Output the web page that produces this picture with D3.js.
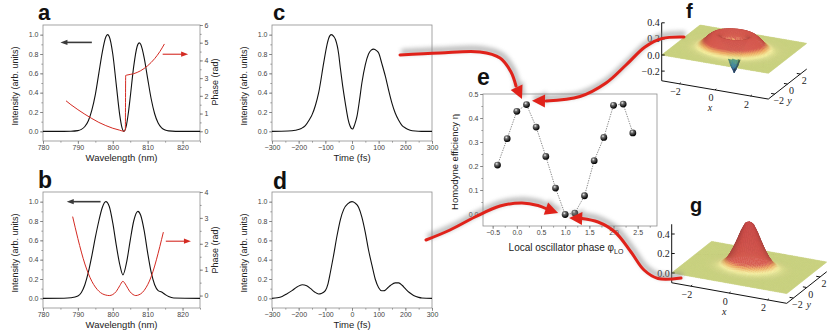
<!DOCTYPE html>
<meta charset="utf-8">
<style>
body { margin: 0; background: #fff; }
svg { display: block; }
</style>
<svg width="830" height="336"></svg>
<script src="https://cdn.jsdelivr.net/npm/d3@7/dist/d3.min.js"></script>
<script>

// ---- a : spectral intensity and phase (phase step of pi)
var wlA = [780, 786, 788, 790, 791, 792, 793, 794, 795, 796, 797, 798, 798.5, 799, 800, 801, 802, 802.6, 803.2,
           803.8, 804.5, 805, 806, 807, 807.6, 808, 809, 810, 811, 812, 813, 814, 815, 816, 818, 825];
var intA = [0, 0, 0.001, 0.007, 0.02, 0.05, 0.11, 0.22, 0.38, 0.6, 0.82, 0.976, 1.0, 0.979, 0.8, 0.483, 0.168, 0.044, 0,
            0.045, 0.2, 0.352, 0.672, 0.88, 0.915, 0.9, 0.76, 0.545, 0.337, 0.182, 0.086, 0.036, 0.0135, 0.0045, 0, 0];
var phaseWlA = [786.6, 788, 790, 792, 794, 796, 798, 800, 802, 803.2, 803.6, 803.7, 804, 806, 808, 810, 812, 813.5, 814.8];
var phaseA = [1.72, 1.5, 1.22, 0.96, 0.72, 0.5, 0.32, 0.17, 0.06, 0, 0.08, 3.15, 3.17, 3.25, 3.42, 3.7, 4.1, 4.5, 4.93];

// ---- b : spectral intensity and quadratic-like phase
var wlB = [780, 786, 788, 790, 791, 792, 793, 794, 795, 796, 797, 798, 799, 800, 801, 802, 802.9, 804, 805, 806,
           807.2, 808, 809, 810, 811, 812, 813, 814, 815, 816, 817.5, 825];
var intB = [0, 0.001, 0.006, 0.025, 0.06, 0.14, 0.27, 0.44, 0.63, 0.8, 0.94, 1.0, 0.95, 0.78, 0.55, 0.35, 0.243, 0.38, 0.6, 0.8,
            0.9, 0.86, 0.7, 0.47, 0.27, 0.14, 0.08, 0.065, 0.04, 0.018, 0.003, 0];
var phaseWlB = [788.5, 790, 791, 792, 793, 794, 795, 796, 797, 798, 799, 800, 801, 802, 802.9, 803.8, 804.8, 805.8,
                806.6, 807.5, 808.5, 809.5, 810.5, 811.5, 812.5, 813.5, 814.5];
var phaseB = [3.05, 2.2, 1.68, 1.22, 0.85, 0.55, 0.33, 0.17, 0.07, 0.02, 0, 0.04, 0.16, 0.38, 0.55, 0.4, 0.17, 0.04,
              0, 0.03, 0.12, 0.3, 0.56, 0.92, 1.38, 1.9, 2.45];

// ---- c, d : temporal intensity
var timeC = [-300, -240, -212, -190, -175, -160, -150, -137, -125, -106, -95, -87, -78, -68, -62, -50, -44, -35, -25, -15, -8,
             2, 10, 19, 28, 37, 50, 62, 72, 81, 92, 100, 112, 125, 137, 150, 162, 175, 188, 200, 218, 237, 260, 300];
var intC = [0, 0.003, 0.012, 0.03, 0.06, 0.12, 0.17, 0.27, 0.4, 0.71, 0.88, 0.965, 1.0, 0.98, 0.95, 0.8, 0.66, 0.47, 0.29, 0.13, 0.06,
            0.024, 0.07, 0.16, 0.32, 0.5, 0.69, 0.8, 0.84, 0.85, 0.835, 0.81, 0.7, 0.57, 0.43, 0.29, 0.19, 0.115, 0.06, 0.035, 0.012, 0.003, 0, 0];
var timeD = [-300, -280, -262, -245, -225, -205, -187, -170, -155, -140, -125, -115, -100, -90, -81, -70, -56, -43, -31, -15, 0,
             12, 25, 37, 50, 62, 75, 87, 100, 112, 122, 131, 145, 162, 175, 188, 200, 215, 231, 250, 262, 300];
var intD = [0, 0.006, 0.02, 0.045, 0.08, 0.12, 0.14, 0.13, 0.1, 0.065, 0.045, 0.05, 0.08, 0.15, 0.27, 0.43, 0.65, 0.82, 0.92, 0.98, 1.0,
            0.985, 0.94, 0.84, 0.68, 0.5, 0.34, 0.2, 0.11, 0.078, 0.08, 0.1, 0.135, 0.16, 0.16, 0.135, 0.1, 0.06, 0.03, 0.01, 0.004, 0];

// ---- e : homodyne efficiency vs local oscillator phase
var loPhase = [-0.4, -0.2, 0, 0.2, 0.4, 0.6, 0.8, 1.0, 1.2, 1.4, 1.6, 1.8, 2.0, 2.2, 2.4];
var efficiency = [0.204, 0.314, 0.428, 0.456, 0.362, 0.24, 0.108, -0.002, 0.004, 0.076, 0.222, 0.319, 0.453, 0.458, 0.338];

// ---- f, g : radial profiles of the Wigner functions
var wignerR = [0, 0.2, 0.4, 0.6, 0.8, 1.0, 1.2, 1.4, 1.6, 1.8, 2.0, 2.2, 2.4, 2.6, 3.0];
var wignerF = [-0.29, -0.2, -0.06, 0.08, 0.16, 0.18, 0.165, 0.13, 0.085, 0.045, 0.02, 0.008, 0.003, 0.001, 0];
var wignerG = [0.47, 0.45, 0.37, 0.27, 0.18, 0.105, 0.055, 0.025, 0.01, 0.004, 0.001, 0, 0, 0, 0];

// ticks
var wlTicks = [780, 790, 800, 810, 820];
var timeTicks = [-300, -200, -100, 0, 100, 200, 300];
var intTicks = [0, 0.2, 0.4, 0.6, 0.8, 1.0];
var phaseTicksA = [0, 1, 2, 3, 4, 5, 6];
var phaseTicksB = [0, 1, 2, 3, 4];
var effTicks = [0, 0.1, 0.2, 0.3, 0.4, 0.5];
var loTicks = [-0.5, 0, 0.5, 1.0, 1.5, 2.0, 2.5];
var zTicksF = [0.4, 0.2, 0, -0.2];
var zTicksG = [0.4, 0.2, 0];
var xyTicks = [-2, 0, 2];

var svg = d3.select("svg");
var sans = "Arial, 'Liberation Sans', sans-serif";
var serif = "'Times New Roman', 'Liberation Serif', serif";
var red = "#d42a22";

var defs = svg.append("defs");
defs.append("filter").attr("id", "blur").attr("x", "-20%").attr("y", "-40%").attr("width", "140%").attr("height", "180%")
  .append("feGaussianBlur").attr("stdDeviation", 2.2);
var rg = defs.append("radialGradient").attr("id", "ball").attr("cx", "38%").attr("cy", "32%").attr("r", "62%");
rg.append("stop").attr("offset", "0%").attr("stop-color", "#f2f2f2");
rg.append("stop").attr("offset", "35%").attr("stop-color", "#6c6c6c");
rg.append("stop").attr("offset", "100%").attr("stop-color", "#060606");

function axis(g, gen, tx, ty) {
  var a = g.append("g").attr("transform", "translate(" + tx + "," + ty + ")").call(gen);
  a.select(".domain").remove();
  a.selectAll(".tick line").attr("stroke", "#6f6f6f").attr("stroke-width", 0.7);
  a.selectAll(".tick text").attr("fill", "#444").style("font", "7px " + sans);
  return a;
}

function title(g, txt, x, y, rot, size) {
  return g.append("text").attr("transform", "translate(" + x + "," + y + ") rotate(" + (rot || 0) + ")")
    .attr("text-anchor", "middle").attr("fill", "#222").style("font", (size || 9) + "px " + sans).text(txt);
}

function letter(txt, x, y, size) {
  svg.append("text").attr("x", x).attr("y", y).attr("fill", "#111")
    .style("font", "bold " + (size || 23) + "px " + sans).text(txt);
}

function smallArrow(g, x1, x2, y, col, w) {
  var dir = x2 > x1 ? 1 : -1;
  g.append("line").attr("x1", x1).attr("x2", x2 - dir * 5).attr("y1", y).attr("y2", y)
    .attr("stroke", col).attr("stroke-width", w);
  g.append("path").attr("d", "M" + x2 + "," + y + "L" + (x2 - dir * 7) + "," + (y - 2.6) + "L" + (x2 - dir * 7) + "," + (y + 2.6) + "Z")
    .attr("fill", col);
}

function linePanel(p) {
  var g = svg.append("g");
  var x = d3.scaleLinear().domain(p.xDomain).range([p.x0, p.x1]);
  var y = d3.scaleLinear().domain([-0.1, 1.1]).range([p.y1, p.y0]);
  axis(g, d3.axisBottom(x).tickValues(d3.range(p.xDomain[0], p.xDomain[1] + 1e-9, p.xStep / 2)).tickSize(1.6).tickFormat(""), 0, p.y1);
  axis(g, d3.axisBottom(x).tickValues(p.xTicks).tickSize(3).tickPadding(1.5).tickFormat(d3.format("d")), 0, p.y1);
  axis(g, d3.axisLeft(y).tickValues(d3.range(0, 1.05, 0.1)).tickSize(1.6).tickFormat(""), p.x0, 0);
  axis(g, d3.axisLeft(y).tickValues(intTicks).tickSize(3).tickPadding(1.5).tickFormat(d3.format(".1f")), p.x0, 0);
  g.append("rect").attr("x", p.x0).attr("y", p.y0).attr("width", p.x1 - p.x0).attr("height", p.y1 - p.y0)
    .attr("fill", "none").attr("stroke", "#8e8e8e").attr("stroke-width", 0.8);
  g.append("path").datum(d3.zip(p.xs, p.ys))
    .attr("d", d3.line().x(function(d) { return x(d[0]); }).y(function(d) { return y(d[1]); }).curve(d3.curveMonotoneX))
    .attr("fill", "none").attr("stroke", "#111").attr("stroke-width", 1.1);
  title(g, "Intensity (arb. units)", p.x0 - 25, (p.y0 + p.y1) / 2 + 3, -90, 9);
  title(g, p.xLabel, (p.x0 + p.x1) / 2, p.y1 + 20, 0, 9.5);
  return { g: g, x: x, y: y };
}

function phaseAxis(pan, p) {
  var yp = d3.scaleLinear().domain(p.domain).range([p.y1, p.y0]);
  axis(pan.g, d3.axisRight(yp).tickValues(d3.range(0, p.ticks[p.ticks.length - 1] + 0.01, 0.5)).tickSize(1.6).tickFormat(""), p.x1, 0);
  axis(pan.g, d3.axisRight(yp).tickValues(p.ticks).tickSize(3).tickPadding(1.5).tickFormat(d3.format("d")), p.x1, 0);
  pan.g.append("path").datum(d3.zip(p.xs, p.ys))
    .attr("d", d3.line().x(function(d) { return pan.x(d[0]); }).y(function(d) { return yp(d[1]); }).curve(d3.curveMonotoneX))
    .attr("fill", "none").attr("stroke", red).attr("stroke-width", 1);
  title(pan.g, "Phase (rad)", p.x1 + 18, p.labelY, -90, 9);
  smallArrow(pan.g, pan.x(p.blackArrow[0]), pan.x(p.blackArrow[1]), pan.y(p.blackArrow[2]), "#3a3a3a", 1.6);
  smallArrow(pan.g, pan.x(p.redArrow[0]), pan.x(p.redArrow[1]), yp(p.redArrow[2]), red, 1.1);
}

// a
var panA = linePanel({ x0: 43, x1: 200, y0: 25, y1: 141, xDomain: [780, 825], xStep: 10, xTicks: wlTicks,
  xs: wlA, ys: intA, xLabel: "Wavelength (nm)" });
phaseAxis(panA, { x1: 200, y0: 25, y1: 141, domain: [-0.55, 6], ticks: phaseTicksA, xs: phaseWlA, ys: phaseA,
  labelY: 82, blackArrow: [794, 785, 0.92], redArrow: [814.3, 821.6, 4.35] });
// b
var panB = linePanel({ x0: 43, x1: 200, y0: 192, y1: 308, xDomain: [780, 825], xStep: 10, xTicks: wlTicks,
  xs: wlB, ys: intB, xLabel: "Wavelength (nm)" });
phaseAxis(panB, { x1: 200, y0: 192, y1: 308, domain: [-0.48, 4], ticks: phaseTicksB, xs: phaseWlB, ys: phaseB,
  labelY: 250, blackArrow: [796.5, 786.8, 1.0], redArrow: [815.2, 822.4, 2.1] });
// c, d
linePanel({ x0: 272, x1: 432, y0: 25, y1: 141, xDomain: [-300, 300], xStep: 100, xTicks: timeTicks,
  xs: timeC, ys: intC, xLabel: "Time (fs)" });
linePanel({ x0: 272, x1: 432, y0: 192, y1: 308, xDomain: [-300, 300], xStep: 100, xTicks: timeTicks,
  xs: timeD, ys: intD, xLabel: "Time (fs)" });

// e
var ge = svg.append("g");
var xE = d3.scaleLinear().domain([-0.7, 2.9]).range([483, 657]);
var yE = d3.scaleLinear().domain([-0.05, 0.5]).range([226, 94]);
axis(ge, d3.axisBottom(xE).tickValues(d3.range(-0.5, 2.8, 0.25)).tickSize(1.6).tickFormat(""), 0, 226);
axis(ge, d3.axisBottom(xE).tickValues(loTicks).tickSize(3).tickPadding(1.5).tickFormat(d3.format(".1f")), 0, 226);
axis(ge, d3.axisLeft(yE).tickValues(d3.range(0, 0.51, 0.05)).tickSize(1.6).tickFormat(""), 483, 0);
axis(ge, d3.axisLeft(yE).tickValues(effTicks).tickSize(3).tickPadding(1.5).tickFormat(d3.format(".1f")), 483, 0);
ge.append("rect").attr("x", 483).attr("y", 94).attr("width", 174).attr("height", 132)
  .attr("fill", "none").attr("stroke", "#8e8e8e").attr("stroke-width", 0.8);
var effPts = d3.zip(loPhase, efficiency);
ge.append("path").datum(effPts)
  .attr("d", d3.line().x(function(d) { return xE(d[0]); }).y(function(d) { return yE(d[1]); }))
  .attr("fill", "none").attr("stroke", "#555").attr("stroke-width", 0.7).attr("stroke-dasharray", "1.3,1.2");
ge.selectAll("circle").data(effPts).join("circle")
  .attr("cx", function(d) { return xE(d[0]); }).attr("cy", function(d) { return yE(d[1]); })
  .attr("r", 3.4).attr("fill", "url(#ball)");
title(ge, "Homodyne efficiency \u03b7", 458, 162, -90, 9.5);
var lt = title(ge, "Local oscillator phase \u03c6", 566, 251, 0, 10);
lt.append("tspan").attr("dy", 3).style("font-size", "7px").text("LO");

// f, g : 3D surfaces
var heightColor = d3.scaleLinear()
  .domain([-0.3, -0.2, -0.1, 0, 0.025, 0.055, 0.09, 0.5])
  .range(["#2d5aa8", "#3f8c9c", "#7ab35c", "#c8cf7e", "#f3ed9c", "#eeb064", "#d65a4e", "#c94646"])
  .clamp(true);

function surfacePanel(p) {
  var g = svg.append("g");
  var w = d3.scaleLinear().domain(wignerR).range(p.profile).clamp(true);
  function P(x, y, z) {
    return [p.o[0] + (x + 3) * p.ex[0] + (y + 3) * p.ey[0],
            p.o[1] + (x + 3) * p.ex[1] + (y + 3) * p.ey[1] - z * p.ez];
  }
  var n = 64, h = 6 / n, zs = p.ez / Math.hypot(p.ex[0], p.ex[1]);
  var L = [0.35, -0.8, 1];
  var cells = [];
  for (var i = 0; i < n; i++) {
    for (var j = 0; j < n; j++) {
      var xa = -3 + i * h, xb = xa + h, ya = -3 + j * h, yb = ya + h;
      var z00 = w(Math.hypot(xa, ya)), z10 = w(Math.hypot(xb, ya)), z11 = w(Math.hypot(xb, yb)), z01 = w(Math.hypot(xa, yb));
      var fx = (z10 + z11 - z00 - z01) / (2 * h) * zs, fy = (z01 + z11 - z00 - z10) / (2 * h) * zs;
      var k = (-fx * L[0] - fy * L[1] + L[2]) / Math.hypot(fx, fy, 1) / L[2];
      k = Math.max(-0.3, Math.min(1.4, k));
      var zm = (z00 + z10 + z11 + z01) / 4;
      var base = heightColor(zm);
      var col = k < 1 ? d3.interpolateRgb(base, "#2a1414")(0.4 * (1 - k)) : d3.interpolateRgb(base, "#ffffff")(0.1 * (k - 1));
      cells.push({ pts: [P(xa, ya, z00), P(xb, ya, z10), P(xb, yb, z11), P(xa, yb, z01)], col: col,
                   cy: ya + h / 2, z: zm, r: Math.hypot(xa + h / 2, ya + h / 2),
                   depth: P(xa + h / 2, ya + h / 2, 0)[1] });
    }
  }
  cells.sort(function(a, b) { return a.depth - b.depth; });
  var order = cells;
  if (p.showDip) {
    // the negative dip shows through in front of the plane, the front of the ring stays on top of it
    order = cells.concat(cells.filter(function(c) { return c.z < 0 && c.cy > -0.1; }),
                         cells.filter(function(c) { return c.cy < 0 && c.z > 0.02 && c.r < 2.4; }));
  }
  g.selectAll("path.cell").data(order).join("path").attr("class", "cell")
    .attr("d", function(c) { return "M" + c.pts.join("L") + "Z"; })
    .attr("fill", function(c) { return c.col; }).attr("stroke", function(c) { return c.col; }).attr("stroke-width", 0.45);

  var lines = [[P(-3, -3, p.zmin), P(-3, -3, p.zmax)], [P(-3, -3, p.zmin), P(3, -3, p.zmin)], [P(3, -3, p.zmin), P(3, 3, p.zmin)]];
  p.zTicks.forEach(function(z) { var a = P(-3, -3, z); lines.push([a, [a[0] + 3, a[1]]]); });
  xyTicks.forEach(function(v) {
    lines.push([P(v, -3, p.zmin), P(v, -2.8, p.zmin)]);
    lines.push([P(3, v, p.zmin), P(2.8, v, p.zmin)]);
  });
  g.selectAll("line.ax").data(lines).join("line").attr("class", "ax")
    .attr("x1", function(d) { return d[0][0]; }).attr("y1", function(d) { return d[0][1]; })
    .attr("x2", function(d) { return d[1][0]; }).attr("y2", function(d) { return d[1][1]; })
    .attr("stroke", "#111").attr("stroke-width", 1);

  var fmt = function(v) { return v === 0 ? "0.0" : d3.format(".1f")(v).replace("-", "\u2212"); };
  g.selectAll("text.z").data(p.zTicks).join("text").attr("class", "z")
    .attr("x", P(-3, -3, 0)[0] - 2).attr("y", function(z) { return P(-3, -3, z)[1] + 3.5; })
    .attr("text-anchor", "end").attr("fill", "#222").style("font", "10px " + serif).text(fmt);
  var fint = function(v) { return String(v).replace("-", "\u2212"); };
  g.selectAll("text.x").data(xyTicks).join("text").attr("class", "x")
    .attr("x", function(v) { return P(v, -3, p.zmin)[0] - 4; }).attr("y", function(v) { return P(v, -3, p.zmin)[1] + 11.5; })
    .attr("text-anchor", "middle").attr("fill", "#222").style("font", "10px " + serif).text(fint);
  g.selectAll("text.y").data(xyTicks).join("text").attr("class", "y")
    .attr("x", function(v) { return P(3, v, p.zmin)[0] + 4; }).attr("y", function(v) { return P(3, v, p.zmin)[1] + 10; })
    .attr("text-anchor", "middle").attr("fill", "#222").style("font", "10px " + serif).text(fint);
  var xl = P(0, -3, p.zmin), yl = P(3, 0, p.zmin);
  g.append("text").attr("x", xl[0] - 5).attr("y", xl[1] + 21.5).attr("text-anchor", "middle")
    .style("font", "italic 10px " + serif).attr("fill", "#222").text("x");
  g.append("text").attr("x", yl[0] + 2).attr("y", yl[1] + 20).attr("text-anchor", "middle")
    .style("font", "italic 10px " + serif).attr("fill", "#222").text("y");
}

surfacePanel({ o: [661.7, 55], ex: [17.77, 3.05], ey: [6.4, -5.0], ez: 80.5, zmin: -0.32, zmax: 0.4,
  zTicks: zTicksF, profile: wignerF, showDip: true });
surfacePanel({ o: [671.7, 273], ex: [19.17, 3.43], ey: [6.67, -5.27], ez: 97.5, zmin: -0.1, zmax: 0.5,
  zTicks: zTicksG, profile: wignerG });

// connectors into panel e, tips placed next to the marked data points
function tipAt(i, dx, dy) { return [xE(loPhase[i]) + dx, yE(efficiency[i]) + dy]; }
var connectors = [
  { pts: [[400, 55], [440, 53], [480, 52], [500, 58], [511, 72], [516, 86]], tip: tipAt(3, -4.5, -5.5) },
  { pts: [[684, 37], [662, 38.5], [645, 47], [626, 65], [606, 83], [580, 96.5], [546, 101]], tip: tipAt(3, 5.5, -3.8) },
  { pts: [[426, 240], [450, 230], [475, 217], [500, 206], [522, 203], [538, 205.5], [547, 209]], tip: tipAt(7, -7, -1.5) },
  { pts: [[681, 278], [658, 278.5], [644, 270], [631, 252], [615, 232], [598, 222], [582, 218.5]], tip: tipAt(7, 4, 3.5) }
];
var conLine = d3.line().curve(d3.curveCatmullRom.alpha(0.5));
function head(c) {
  var b = c.pts[c.pts.length - 1], t = c.tip;
  var dx = t[0] - b[0], dy = t[1] - b[1], len = Math.hypot(dx, dy), ux = dx / len, uy = dy / len;
  var bx = t[0] - ux * 13, by = t[1] - uy * 13;
  return "M" + t + "L" + [bx - uy * 6.5, by + ux * 6.5] + "L" + [bx + uy * 6.5, by - ux * 6.5] + "Z";
}
var gc = svg.append("g");
var sh = gc.append("g").attr("transform", "translate(1.5,-3)").attr("filter", "url(#blur)").attr("opacity", 0.55);
connectors.forEach(function(c) {
  sh.append("path").attr("d", conLine(c.pts.concat([c.tip]))).attr("fill", "none").attr("stroke", "#8a8a8a").attr("stroke-width", 6);
  sh.append("path").attr("d", head(c)).attr("fill", "#8a8a8a");
});
connectors.forEach(function(c) {
  gc.append("path").attr("d", conLine(c.pts)).attr("fill", "none").attr("stroke", "#e0221a")
    .attr("stroke-width", 3).attr("stroke-linecap", "round");
  gc.append("path").attr("d", head(c)).attr("fill", "#e0221a");
});

letter("a", 38, 20, 22);
letter("b", 38, 188);
letter("c", 273, 20, 22);
letter("d", 273, 189);
letter("e", 477, 85);
letter("f", 686, 18, 20);
letter("g", 690, 212, 20);
</script>
